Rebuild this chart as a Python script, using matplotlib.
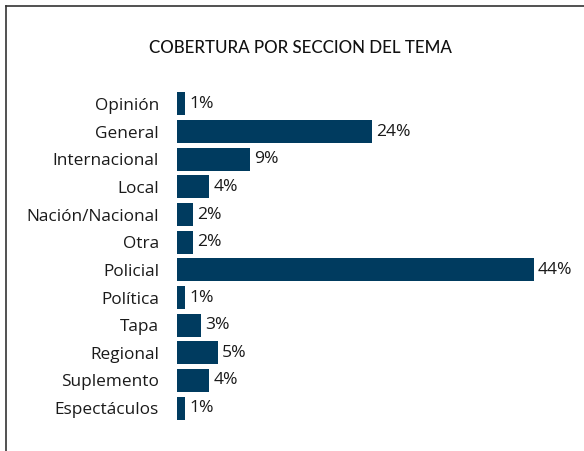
import matplotlib.pyplot as plt
from matplotlib.lines import Line2D

# Data
categories = ['Opinión', 'General', 'Internacional', 'Local', 'Nación/Nacional', 'Otra',
              'Policial', 'Política', 'Tapa', 'Regional', 'Suplemento', 'Espectáculos']
values = [1, 24, 9, 4, 2, 2, 44, 1, 3, 5, 4, 1]

W, H = 584, 451
fig = plt.figure(figsize=(W / 100, H / 100), dpi=100)

# axes placed in pixel terms
left, right = 177, 584
top, bottom = 90, 422
ax = fig.add_axes([left / W, 1 - bottom / H, (right - left) / W, (bottom - top) / H])

y = list(range(len(categories)))
ax.barh(y, values, height=0.83, color='#003b5f')
ax.set_ylim(len(categories) - 0.5, -0.5)
ax.set_xlim(0, 44 * (right - left) / 357)

ax.set_yticks(y)
ax.set_yticklabels(categories, fontsize=12.4, family='Open Sans', color='#1a1a1a')
ax.tick_params(axis='y', length=0, pad=13)
ax.set_xticks([])
for s in ax.spines.values():
    s.set_visible(False)

for yi, v in zip(y, values):
    ax.text(v + 0.5, yi, f'{v}%', va='center', ha='left', fontsize=12.6,
            family='Open Sans', color='#1a1a1a')

fig.text(300 / W, 1 - 48 / H, 'COBERTURA POR SECCION DEL TEMA', ha='center', va='center',
         fontsize=12.2, family='Lato', weight='medium', color='#111111')

# frame lines on left and top
fig.add_artist(Line2D([6 / W, 6 / W], [0, 1 - 6 / H], color='#333333', lw=1.2))
fig.add_artist(Line2D([6 / W, 1], [1 - 6 / H, 1 - 6 / H], color='#333333', lw=1.2))

fig.savefig('out.png', dpi=100)
